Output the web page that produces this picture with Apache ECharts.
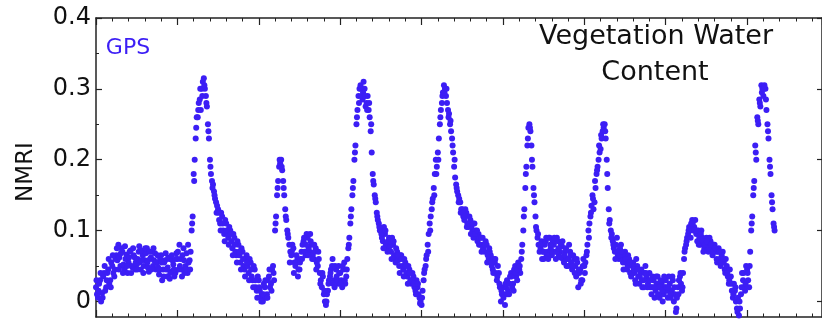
<!DOCTYPE html>
<html>
<head>
<meta charset="utf-8">
<script src="https://cdn.jsdelivr.net/npm/echarts@6/dist/echarts.min.js"></script>
<style>
html,body{margin:0;padding:0;background:#fff;}
#c{width:822px;height:320px;}
</style>
</head>
<body>
<div id="c"></div>
<script>
// Time axis in years (one major tick per year); three interleaved sample sets, each every xStep years
const xStart = 0;
const xStart2 = 0.0125;
const xStart3 = 0.00625;
const xStep = 0.025;
const xMax = 8.92;
const yMin = -0.022;
const yMax = 0.4;
const yTickLabels = [0, 0.1, 0.2, 0.3, 0.4];
const yMinorTicks = [0.05, 0.15, 0.25, 0.35];
const seriesName = 'GPS';
const titleLines = ['Vegetation Water', 'Content'];
const yName = 'NMRI';

const nmri = [
  0.02, 0.005, 0.03, 0.012, 0.04, 0.02, 0.045, 0.03, 0.05, 0.035,
  0.065, 0.08, 0.05, 0.07, 0.045, 0.066, 0.055, 0.072, 0.048, 0.062,
  0.052, 0.07, 0.045, 0.065, 0.058, 0.075, 0.042, 0.062, 0.05, 0.068,
  0.055, 0.038, 0.065, 0.045, 0.058, 0.035, 0.06, 0.042, 0.052, 0.04,
  0.06, 0.08, 0.045, 0.075, 0.05, 0.04, 0.058, 0.1, 0.18, 0.23,
  0.26, 0.285, 0.3, 0.315, 0.29, 0.25, 0.2, 0.17, 0.155, 0.14,
  0.13, 0.11, 0.12, 0.095, 0.11, 0.09, 0.1, 0.075, 0.09, 0.065,
  0.08, 0.055, 0.07, 0.045, 0.065, 0.04, 0.055, 0.03, 0.045, 0.015,
  0.03, 0.005, 0.0, 0.02, 0.01, 0.035, 0.025, 0.05, 0.1, 0.15,
  0.19, 0.2, 0.17, 0.13, 0.1, 0.08, 0.065, 0.075, 0.05, 0.06,
  0.045, 0.07, 0.085, 0.065, 0.09, 0.07, 0.08, 0.06, 0.075, 0.05,
  0.04, 0.02, 0.01, -0.005, 0.015, 0.035, 0.05, 0.03, 0.045, 0.025,
  0.04, 0.02, 0.055, 0.035, 0.075, 0.11, 0.15, 0.2, 0.25, 0.29,
  0.305, 0.285, 0.3, 0.28, 0.27, 0.24, 0.18, 0.15, 0.125, 0.11,
  0.1, 0.085, 0.095, 0.075, 0.09, 0.07, 0.08, 0.06, 0.07, 0.05,
  0.065, 0.045, 0.055, 0.035, 0.045, 0.025, 0.035, 0.015, 0.02, 0.005,
  -0.005, 0.03, 0.05, 0.08, 0.11, 0.13, 0.16, 0.2, 0.21, 0.25,
  0.28, 0.305, 0.29, 0.27, 0.25, 0.23, 0.19, 0.165, 0.15, 0.14,
  0.13, 0.115, 0.125, 0.105, 0.115, 0.1, 0.11, 0.09, 0.095, 0.08,
  0.09, 0.07, 0.08, 0.06, 0.065, 0.045, 0.055, 0.03, 0.04, 0.0,
  0.02, -0.005, 0.03, 0.01, 0.04, 0.025, 0.05, 0.03, 0.045, 0.06,
  0.1, 0.16, 0.22, 0.25, 0.22, 0.16, 0.12, 0.09, 0.07, 0.085,
  0.06, 0.085, 0.07, 0.09, 0.065, 0.08, 0.06, 0.085, 0.07, 0.078,
  0.055, 0.075, 0.05, 0.07, 0.045, 0.06, 0.035, 0.02, 0.045, 0.03,
  0.05, 0.065, 0.1, 0.12, 0.15, 0.14, 0.18, 0.2, 0.215, 0.24,
  0.25, 0.2, 0.13, 0.1, 0.085, 0.07, 0.09, 0.06, 0.08, 0.055,
  0.07, 0.045, 0.06, 0.035, 0.055, 0.03, 0.05, 0.025, 0.045, 0.03,
  0.05, 0.02, 0.04, 0.01, 0.03, 0.015, 0.035, 0.005, 0.025, 0.01,
  0.03, 0.005, 0.025, 0.015, 0.0, -0.015, 0.02, 0.035, 0.015, 0.06,
  0.08, 0.095, 0.1, 0.115, 0.105, 0.095, 0.1, 0.08, 0.09, 0.075,
  0.09, 0.07, 0.085, 0.065, 0.08, 0.06, 0.075, 0.05, 0.07, 0.045,
  0.05, 0.025, 0.035, 0.005, 0.015, -0.01, -0.02, 0.01, 0.03, 0.015,
  0.045, 0.02, 0.1, 0.15, 0.22, 0.26, 0.285, 0.305, 0.29, 0.3,
  0.25, 0.2, 0.15, 0.11
];

const nmri2 = [
  0.01, 0.025, 0.0, 0.035, 0.015, 0.04, 0.025, 0.055, 0.04, 0.06,
  0.058, 0.062, 0.075, 0.052, 0.06, 0.04, 0.07, 0.05, 0.065, 0.055,
  0.06, 0.055, 0.072, 0.05, 0.068, 0.048, 0.06, 0.07, 0.058, 0.045,
  0.048, 0.06, 0.03, 0.055, 0.045, 0.062, 0.04, 0.058, 0.035, 0.068,
  0.045, 0.06, 0.065, 0.04, 0.068, 0.055, 0.07, 0.12, 0.2, 0.26,
  0.28, 0.27, 0.31, 0.3, 0.275, 0.23, 0.18, 0.165, 0.145, 0.135,
  0.115, 0.125, 0.1, 0.115, 0.095, 0.105, 0.085, 0.095, 0.07, 0.085,
  0.065, 0.075, 0.05, 0.06, 0.05, 0.06, 0.035, 0.05, 0.02, 0.035,
  0.015, 0.01, 0.025, 0.005, 0.03, 0.02, 0.045, 0.03, 0.12, 0.17,
  0.195, 0.185, 0.15, 0.115, 0.09, 0.07, 0.08, 0.055, 0.065, 0.045,
  0.06, 0.08, 0.07, 0.095, 0.075, 0.085, 0.065, 0.07, 0.055, 0.06,
  0.03, 0.035, 0.0, 0.01, 0.03, 0.045, 0.025, 0.05, 0.03, 0.04,
  0.03, 0.045, 0.025, 0.06, 0.09, 0.13, 0.17, 0.22, 0.27, 0.3,
  0.29, 0.31, 0.275, 0.29, 0.26, 0.21, 0.165, 0.14, 0.115, 0.1,
  0.09, 0.105, 0.08, 0.085, 0.078, 0.09, 0.065, 0.075, 0.058, 0.065,
  0.05, 0.06, 0.04, 0.05, 0.03, 0.04, 0.02, 0.03, 0.01, 0.0,
  0.015, 0.045, 0.065, 0.095, 0.12, 0.145, 0.18, 0.19, 0.23, 0.27,
  0.295, 0.3, 0.28, 0.265, 0.24, 0.21, 0.175, 0.155, 0.145, 0.13,
  0.12, 0.13, 0.11, 0.12, 0.105, 0.09, 0.1, 0.085, 0.09, 0.07,
  0.08, 0.085, 0.065, 0.07, 0.05, 0.06, 0.04, 0.05, 0.02, 0.01,
  0.01, 0.02, 0.015, 0.035, 0.02, 0.045, 0.035, 0.055, 0.04, 0.08,
  0.13, 0.19, 0.245, 0.24, 0.19, 0.14, 0.1, 0.08, 0.075, 0.07,
  0.08, 0.065, 0.09, 0.075, 0.085, 0.07, 0.09, 0.065, 0.08, 0.06,
  0.07, 0.06, 0.08, 0.055, 0.065, 0.05, 0.055, 0.04, 0.03, 0.06,
  0.055, 0.08, 0.11, 0.135, 0.13, 0.16, 0.19, 0.21, 0.23, 0.245,
  0.23, 0.16, 0.115, 0.095, 0.075, 0.08, 0.065, 0.075, 0.06, 0.065,
  0.055, 0.065, 0.04, 0.05, 0.04, 0.06, 0.035, 0.04, 0.02, 0.04,
  0.035, 0.03, 0.02, 0.035, 0.005, 0.025, 0.02, 0.03, 0.0, 0.02,
  0.015, 0.035, 0.005, 0.03, 0.01, 0.005, 0.03, 0.025, 0.04, 0.075,
  0.09, 0.105, 0.11, 0.1, 0.115, 0.085, 0.09, 0.1, 0.07, 0.085,
  0.08, 0.09, 0.075, 0.08, 0.07, 0.07, 0.06, 0.065, 0.055, 0.06,
  0.035, 0.045, 0.015, 0.025, 0.0, 0.005, -0.01, 0.04, 0.02, 0.05,
  0.03, 0.07, 0.12, 0.17, 0.2, 0.25, 0.275, 0.3, 0.305, 0.27,
  0.23, 0.18, 0.13, 0.1
];

const nmri3 = [
  0.03, 0.015, 0.04, 0.005, 0.05, 0.03, 0.06, 0.02, 0.065, 0.045,
  0.075, 0.045, 0.068, 0.04, 0.078, 0.05, 0.062, 0.04, 0.075, 0.045,
  0.045, 0.078, 0.058, 0.04, 0.075, 0.055, 0.07, 0.045, 0.075, 0.055,
  0.065, 0.045, 0.055, 0.035, 0.068, 0.048, 0.032, 0.065, 0.045, 0.06,
  0.07, 0.05, 0.035, 0.058, 0.045, 0.08, 0.045, 0.11, 0.17, 0.245,
  0.27, 0.3, 0.29, 0.305, 0.28, 0.24, 0.19, 0.16, 0.15, 0.125,
  0.125, 0.1, 0.11, 0.085, 0.1, 0.08, 0.095, 0.065, 0.08, 0.055,
  0.07, 0.045, 0.06, 0.035, 0.055, 0.03, 0.045, 0.02, 0.03, 0.005,
  0.02, 0.0, 0.01, 0.03, 0.005, 0.045, 0.015, 0.04, 0.11, 0.16,
  0.2, 0.19, 0.16, 0.12, 0.095, 0.055, 0.07, 0.04, 0.055, 0.035,
  0.055, 0.06, 0.09, 0.08, 0.065, 0.095, 0.06, 0.08, 0.045, 0.07,
  0.025, 0.04, 0.015, 0.0, 0.025, 0.04, 0.06, 0.02, 0.035, 0.05,
  0.025, 0.05, 0.03, 0.045, 0.08, 0.12, 0.16, 0.21, 0.26, 0.28,
  0.3, 0.295, 0.29, 0.27, 0.28, 0.25, 0.17, 0.145, 0.12, 0.105,
  0.095, 0.075, 0.1, 0.07, 0.085, 0.06, 0.085, 0.055, 0.065, 0.04,
  0.06, 0.035, 0.05, 0.025, 0.04, 0.03, 0.025, 0.01, 0.025, -0.003,
  0.005, 0.04, 0.06, 0.07, 0.1, 0.14, 0.15, 0.18, 0.2, 0.26,
  0.29, 0.295, 0.3, 0.26, 0.255, 0.22, 0.2, 0.16, 0.14, 0.125,
  0.125, 0.12, 0.105, 0.11, 0.095, 0.11, 0.095, 0.1, 0.08, 0.09,
  0.075, 0.08, 0.055, 0.075, 0.055, 0.04, 0.06, 0.035, 0.025, 0.015,
  0.005, 0.025, 0.01, 0.025, 0.035, 0.015, 0.04, 0.045, 0.05, 0.07,
  0.12, 0.18, 0.23, 0.245, 0.2, 0.15, 0.105, 0.095, 0.08, 0.06,
  0.07, 0.09, 0.06, 0.08, 0.07, 0.09, 0.07, 0.075, 0.062, 0.085,
  0.065, 0.05, 0.06, 0.065, 0.05, 0.04, 0.06, 0.045, 0.025, 0.05,
  0.04, 0.07, 0.09, 0.125, 0.145, 0.17, 0.185, 0.22, 0.235, 0.25,
  0.24, 0.18, 0.11, 0.09, 0.08, 0.06, 0.07, 0.065, 0.07, 0.045,
  0.06, 0.05, 0.055, 0.04, 0.045, 0.025, 0.045, 0.035, 0.03, 0.02,
  0.04, 0.025, 0.03, 0.02, 0.02, 0.035, 0.01, 0.02, 0.015, 0.035,
  0.02, 0.02, 0.01, 0.035, 0.02, -0.01, 0.01, 0.04, 0.02, 0.07,
  0.085, 0.1, 0.09, 0.11, 0.1, 0.1, 0.08, 0.095, 0.085, 0.08,
  0.085, 0.075, 0.08, 0.07, 0.075, 0.055, 0.07, 0.055, 0.06, 0.04,
  0.04, 0.03, 0.025, 0.01, 0.02, -0.015, 0.0, 0.02, 0.04, 0.025,
  0.04, 0.05, 0.11, 0.16, 0.21, 0.255, 0.28, 0.295, 0.3, 0.285,
  0.24, 0.19, 0.14, 0.105
];

const dotColor = '#3c1ef5';
const axisColor = '#222';
const font = 'DejaVu Sans';

const data = nmri.map((v, i) => [xStart + i * xStep, v])
  .concat(nmri2.map((v, i) => [xStart2 + i * xStep, v]))
  .concat(nmri3.map((v, i) => [xStart3 + i * xStep, v]));

const chart = echarts.init(document.getElementById('c'), null, {renderer: 'canvas'});

const xAxisBase = (pos) => ({
  type: 'value', position: pos, min: xStart, max: xMax, interval: 1,
  axisLine: {show: true, onZero: false, lineStyle: {color: axisColor, width: 1.5}},
  axisTick: {show: true, inside: true, length: 7, lineStyle: {color: axisColor, width: 1.2}},
  minorTick: {show: true, splitNumber: 5, length: 3.5, lineStyle: {color: axisColor, width: 1}},
  axisLabel: {show: false},
  splitLine: {show: false},
  minorSplitLine: {show: false}
});

chart.setOption({
  animation: false,
  backgroundColor: '#fff',
  grid: {left: 96, right: 0, top: 18, bottom: 3, containLabel: false},
  xAxis: [xAxisBase('bottom'), xAxisBase('top')],
  yAxis: [
    {
      type: 'value', position: 'left', min: yMin, max: yMax,
      axisLine: {show: true, onZero: false, lineStyle: {color: axisColor, width: 1.5}},
      axisTick: {show: true, inside: true, length: 6, customValues: yTickLabels, lineStyle: {color: axisColor, width: 1.2}},
      axisLabel: {show: true, customValues: yTickLabels, margin: 5, color: '#111', fontFamily: font, fontSize: 24,
        formatter: v => String(v)},
      splitLine: {show: false}
    },
    {
      type: 'value', position: 'left', min: yMin, max: yMax,
      axisLine: {show: false},
      axisTick: {show: true, inside: true, length: 3, customValues: yMinorTicks, lineStyle: {color: axisColor, width: 1}},
      axisLabel: {show: false},
      splitLine: {show: false}
    },
    {
      type: 'value', position: 'right', min: yMin, max: yMax,
      axisLine: {show: true, onZero: false, lineStyle: {color: axisColor, width: 1.5}},
      axisTick: {show: true, inside: true, length: 5, customValues: yTickLabels, lineStyle: {color: axisColor, width: 1.2}},
      axisLabel: {show: false},
      splitLine: {show: false}
    }
  ],
  graphic: [
    {type: 'text', x: 656, y: 37, style: {text: titleLines[0], fill: '#111', font: '27px "DejaVu Sans"', textAlign: 'center', textVerticalAlign: 'middle'}},
    {type: 'text', x: 655, y: 73, style: {text: titleLines[1], fill: '#111', font: '27px "DejaVu Sans"', textAlign: 'center', textVerticalAlign: 'middle'}},
    {type: 'text', x: 128, y: 48, style: {text: seriesName, fill: dotColor, font: '22px "DejaVu Sans"', textAlign: 'center', textVerticalAlign: 'middle'}},
    {type: 'text', x: 26, y: 172, rotation: Math.PI / 2, style: {text: yName, fill: '#111', font: '23px "DejaVu Sans"', textAlign: 'center', textVerticalAlign: 'middle'}}
  ],
  series: [{
    name: seriesName, type: 'scatter', xAxisIndex: 0, yAxisIndex: 0,
    symbol: 'circle', symbolSize: 6,
    itemStyle: {color: dotColor, opacity: 1},
    data: data
  }]
});
</script>
</body>
</html>
